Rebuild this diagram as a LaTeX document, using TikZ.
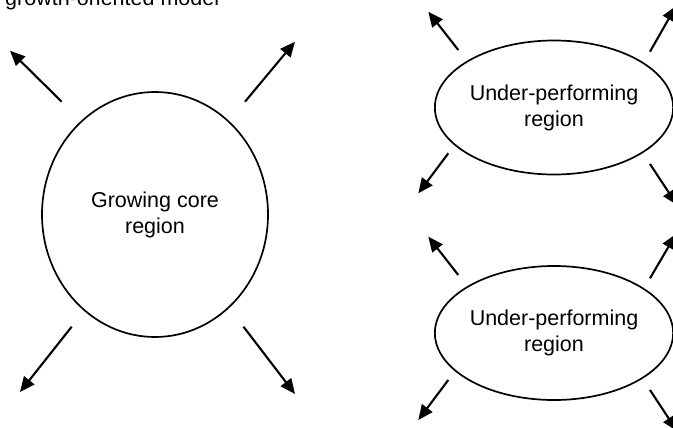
\documentclass[tikz,border=0pt]{standalone}
\usepackage{fontspec}
\setmainfont{Liberation Sans}
\usetikzlibrary{shapes.geometric,arrows.meta}

\tikzset{
  region/.style={draw, ellipse, line width=1.7pt, inner sep=0pt, align=center,
    font=\fontsize{21.5}{26}\selectfont},
  coreregion/.style={region, minimum width=226pt, minimum height=245pt},
  weakregion/.style={region, minimum width=215pt, minimum height=134pt},
  flow/.style={line width=2.1pt, -{Triangle[length=15pt,width=13pt]}},
  caption/.style={anchor=base west, inner sep=0pt, font=\fontsize{21.5}{26}\selectfont}
}

\begin{document}
\begin{tikzpicture}[x=1pt,y=-1pt]
  \useasboundingbox (0,0) rectangle (673,428);
  \clip (0,0) rectangle (673,428);

  % heading, partly above the top edge
  \node[caption] (title) at (5,6) {growth-oriented model};

  % the three regions
  \node[coreregion] (core) at (155,214.5) {Growing core\\region};
  \node[weakregion] (upA) at (554,107.5) {Under-performing\\region};
  \node[weakregion] (upB) at (554,333) {Under-performing\\region};

  % outward flows around the core region
  \coordinate (c1s) at (61.7,101.7);  \coordinate (c1e) at (10,50.7);
  \coordinate (c2s) at (245,101.7);   \coordinate (c2e) at (295,41.7);
  \coordinate (c3s) at (71.7,326.7);  \coordinate (c3e) at (20,392);
  \coordinate (c4s) at (243.5,326.7); \coordinate (c4e) at (295,394);

  % outward flows around the upper under-performing region
  \coordinate (a1s) at (458.3,50);    \coordinate (a1e) at (428.3,11.7);
  \coordinate (a2s) at (650,51.7);    \coordinate (a2e) at (676,6);
  \coordinate (a3s) at (448.3,153.3); \coordinate (a3e) at (418.3,193.3);
  \coordinate (a4s) at (650,164);     \coordinate (a4e) at (677,205);

  % outward flows around the lower under-performing region
  \coordinate (b1s) at (458.3,275);   \coordinate (b1e) at (428.3,236.7);
  \coordinate (b2s) at (650,278.3);   \coordinate (b2e) at (676,234);
  \coordinate (b3s) at (448.3,380);   \coordinate (b3e) at (418.3,420);
  \coordinate (b4s) at (650,390);     \coordinate (b4e) at (677,431);

  \foreach \p in {c1,c2,c3,c4,a1,a2,a3,a4,b1,b2,b3,b4}
    \draw[flow] (\p s) -- (\p e);
\end{tikzpicture}
\end{document}
